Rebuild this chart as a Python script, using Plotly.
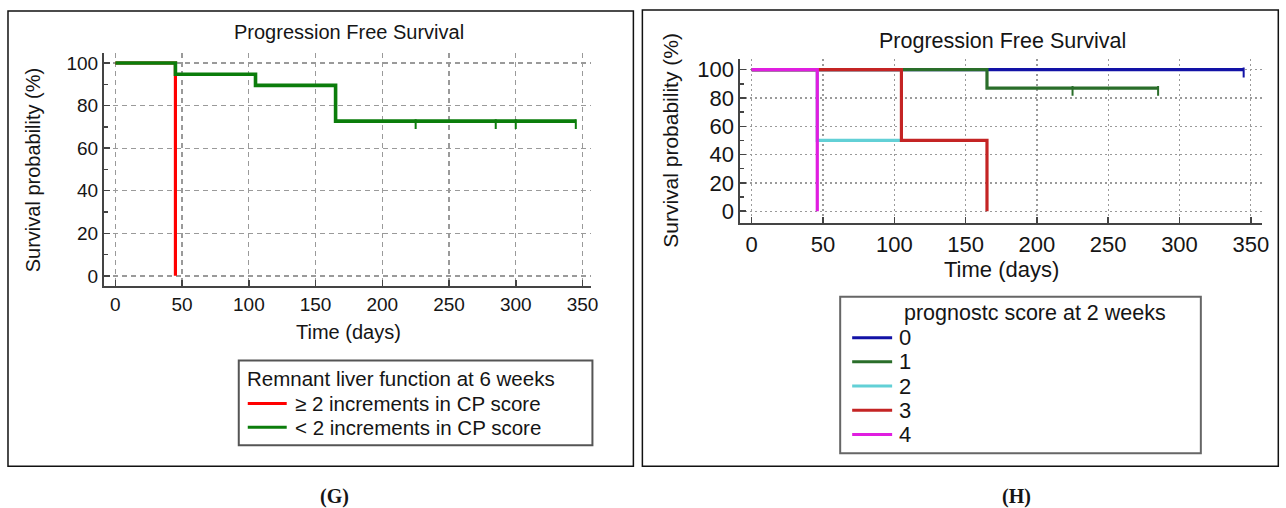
import plotly.graph_objects as go

W, H = 1286, 508

# ---------------- data ----------------
x_ticks = [0, 50, 100, 150, 200, 250, 300, 350]
y_ticks = [0, 20, 40, 60, 80, 100]

chart_title = "Progression Free Survival"
x_title = "Time (days)"
y_title = "Survival probability (%)"

# Panel G
g_legend_title = "Remnant liver function at 6 weeks"
g_names = ["\u2265 2 increments in CP score", "< 2 increments in CP score"]
g_colors = ["#ff0000", "#0b7d0b"]
g_red_t = [0, 45]
g_red_s = [100, 0]
g_green_t = [0, 45, 105, 165, 345]
g_green_s = [100, 94.7, 89.5, 72.7, 72.7]
g_green_cens_t = [225, 285, 300, 345]
g_green_cens_s = [72.7, 72.7, 72.7, 72.7]

# Panel H
h_legend_title = "prognostc score at 2 weeks"
h_names = ["0", "1", "2", "3", "4"]
h_colors = ["#1212a6", "#2a6e2a", "#62d0d6", "#c42424", "#e01ee0"]
h0_t = [0, 345]
h0_s = [100, 100]
h1_t = [0, 165, 285]
h1_s = [100, 87, 87]
h2_t = [0, 46, 105]
h2_s = [100, 50, 50]
h3_t = [0, 105, 165]
h3_s = [100, 50, 0]
h4_t = [0, 46]
h4_s = [100, 0]
h0_cens_t = [345]
h0_cens_s = [100]
h1_cens_t = [225, 285]
h1_cens_s = [87, 87]

panel_labels = ["(G)", "(H)"]

# ---------------- helpers (window pixel -> paper fraction) ----------------
XS = 1.0045  # small horizontal correction

def px(x):
    return min(x * XS, W - 0.7) / W

def py(y):
    return 1 - y / H

FONT = "Liberation Sans, Arial, sans-serif"
TXT = "#151515"

fig = go.Figure()

# Panel G traces
fig.add_trace(go.Scatter(x=g_red_t, y=g_red_s, mode="lines", line=dict(color=g_colors[0], width=3.2, shape="hv"),
                         name=g_names[0], xaxis="x", yaxis="y", showlegend=False))
fig.add_trace(go.Scatter(x=g_green_t, y=g_green_s, mode="lines", line=dict(color=g_colors[1], width=3.6, shape="hv"),
                         name=g_names[1], xaxis="x", yaxis="y", showlegend=False))
G_DROP = 1.4  # censor tick hangs below the curve (style offset, data units)
fig.add_trace(go.Scatter(x=g_green_cens_t, y=[v - G_DROP for v in g_green_cens_s], mode="markers",
                         marker=dict(symbol="line-ns", size=7, line=dict(color=g_colors[1], width=2)),
                         xaxis="x", yaxis="y", showlegend=False, hoverinfo="skip"))

# Panel H traces
h_series = [(h0_t, h0_s), (h1_t, h1_s), (h2_t, h2_s), (h3_t, h3_s), (h4_t, h4_s)]
for (t, s), nm, c in zip(h_series, h_names, h_colors):
    fig.add_trace(go.Scatter(x=t, y=s, mode="lines", line=dict(color=c, width=3.2, shape="hv"),
                             name=nm, xaxis="x2", yaxis="y2", showlegend=False))
H_DROP = 2.0
for ct, cs, c in [(h0_cens_t, h0_cens_s, h_colors[0]), (h1_cens_t, h1_cens_s, h_colors[1])]:
    fig.add_trace(go.Scatter(x=ct, y=[v - H_DROP for v in cs], mode="markers",
                             marker=dict(symbol="line-ns", size=7, line=dict(color=c, width=2)),
                             xaxis="x2", yaxis="y2", showlegend=False, hoverinfo="skip"))

axis_common = dict(showline=True, linecolor="#444", linewidth=2, zeroline=False,
                   ticks="inside", tickcolor="#444", tickwidth=1.5, ticklen=6,
                   showgrid=True, gridcolor="#9a9a9a", gridwidth=1.3, fixedrange=True)

fig.update_layout(
    width=W, height=H,
    margin=dict(l=0, r=0, t=0, b=0),
    paper_bgcolor="white", plot_bgcolor="white",
    font=dict(family=FONT, color=TXT),
    hovermode=False,
    xaxis=dict(domain=[px(104), px(592)], range=[-8.6, 356.7], anchor="y",
               tickvals=x_ticks, tickfont=dict(size=19), griddash="5px,4px", **axis_common),
    yaxis=dict(domain=[py(286), py(52)], range=[-4.7, 104.8], anchor="x",
               tickvals=y_ticks, tickfont=dict(size=19), griddash="5px,4px",
               minor=dict(ticks="inside", dtick=10, tick0=0, ticklen=4, tickcolor="#444", showgrid=False),
               **axis_common),
    xaxis2=dict(domain=[px(741), px(1263)], range=[-8.0, 357.7], anchor="y2",
                tickvals=x_ticks, tickfont=dict(size=22), griddash="2px,3px", **axis_common),
    yaxis2=dict(domain=[py(223), py(58)], range=[-8.45, 107.7], anchor="x2",
                tickvals=y_ticks, tickfont=dict(size=22), griddash="2px,3px",
                minor=dict(ticks="inside", dtick=10, tick0=0, ticklen=4, tickcolor="#444", showgrid=False),
                **axis_common),
)

shapes = []
annotations = []

# panel borders
shapes.append(dict(type="rect", xref="paper", yref="paper", x0=px(8), x1=px(634), y0=py(467), y1=py(10),
                   line=dict(color="#111", width=1.5)))
shapes.append(dict(type="rect", xref="paper", yref="paper", x0=px(643), x1=px(1285), y0=py(467), y1=py(9),
                   line=dict(color="#111", width=1.5)))

def ann(text, x, y, size, xanchor="center", angle=0, bold=False, family=FONT):
    annotations.append(dict(text=("<b>%s</b>" % text) if bold else text, xref="paper", yref="paper",
                            x=px(x), y=py(y), xanchor=xanchor, yanchor="middle", showarrow=False,
                            textangle=angle, font=dict(size=size, family=family, color=TXT)))

# titles and axis titles
ann(chart_title, 349, 31, 20)
ann(x_title, 349, 332, 20)
ann(y_title, 33, 169, 20, angle=-90)
ann(chart_title, 1003, 40, 21.5)
ann(x_title, 1002, 270, 22)
ann(y_title, 671, 140, 21, angle=-90)

# panel labels
ann(panel_labels[0], 335, 497, 20, bold=True, family="Liberation Serif, Times New Roman, serif")
ann(panel_labels[1], 1017, 497, 20, bold=True, family="Liberation Serif, Times New Roman, serif")

# legend G
shapes.append(dict(type="rect", xref="paper", yref="paper", x0=px(239), x1=px(593), y0=py(446), y1=py(361),
                   line=dict(color="#555", width=2)))
ann(g_legend_title, 245, 379, 20.5, xanchor="left")
for i, (nm, c) in enumerate(zip(g_names, g_colors)):
    yy = 404 + i * 24
    shapes.append(dict(type="line", xref="paper", yref="paper", x0=px(248), x1=px(287), y0=py(yy), y1=py(yy),
                       line=dict(color=c, width=3)))
    ann(nm, 293, yy, 20.5, xanchor="left")

# legend H
shapes.append(dict(type="rect", xref="paper", yref="paper", x0=px(841), x1=px(1202), y0=py(454), y1=py(297),
                   line=dict(color="#666", width=2)))
ann(h_legend_title, 903, 313, 21.5, xanchor="left")
for i, (nm, c) in enumerate(zip(h_names, h_colors)):
    yy = 338 + i * 24.3
    shapes.append(dict(type="line", xref="paper", yref="paper", x0=px(853), x1=px(893), y0=py(yy), y1=py(yy),
                       line=dict(color=c, width=3)))
    ann(nm, 898, yy, 22, xanchor="left")

fig.update_layout(shapes=shapes, annotations=annotations)

# remove the browser's default 8px body margin so the figure fills the window exactly
fig.write_html("out.html", config={"displayModeBar": False, "staticPlot": True},
               post_script="document.body.style.margin='0';document.body.style.overflow='hidden';")
